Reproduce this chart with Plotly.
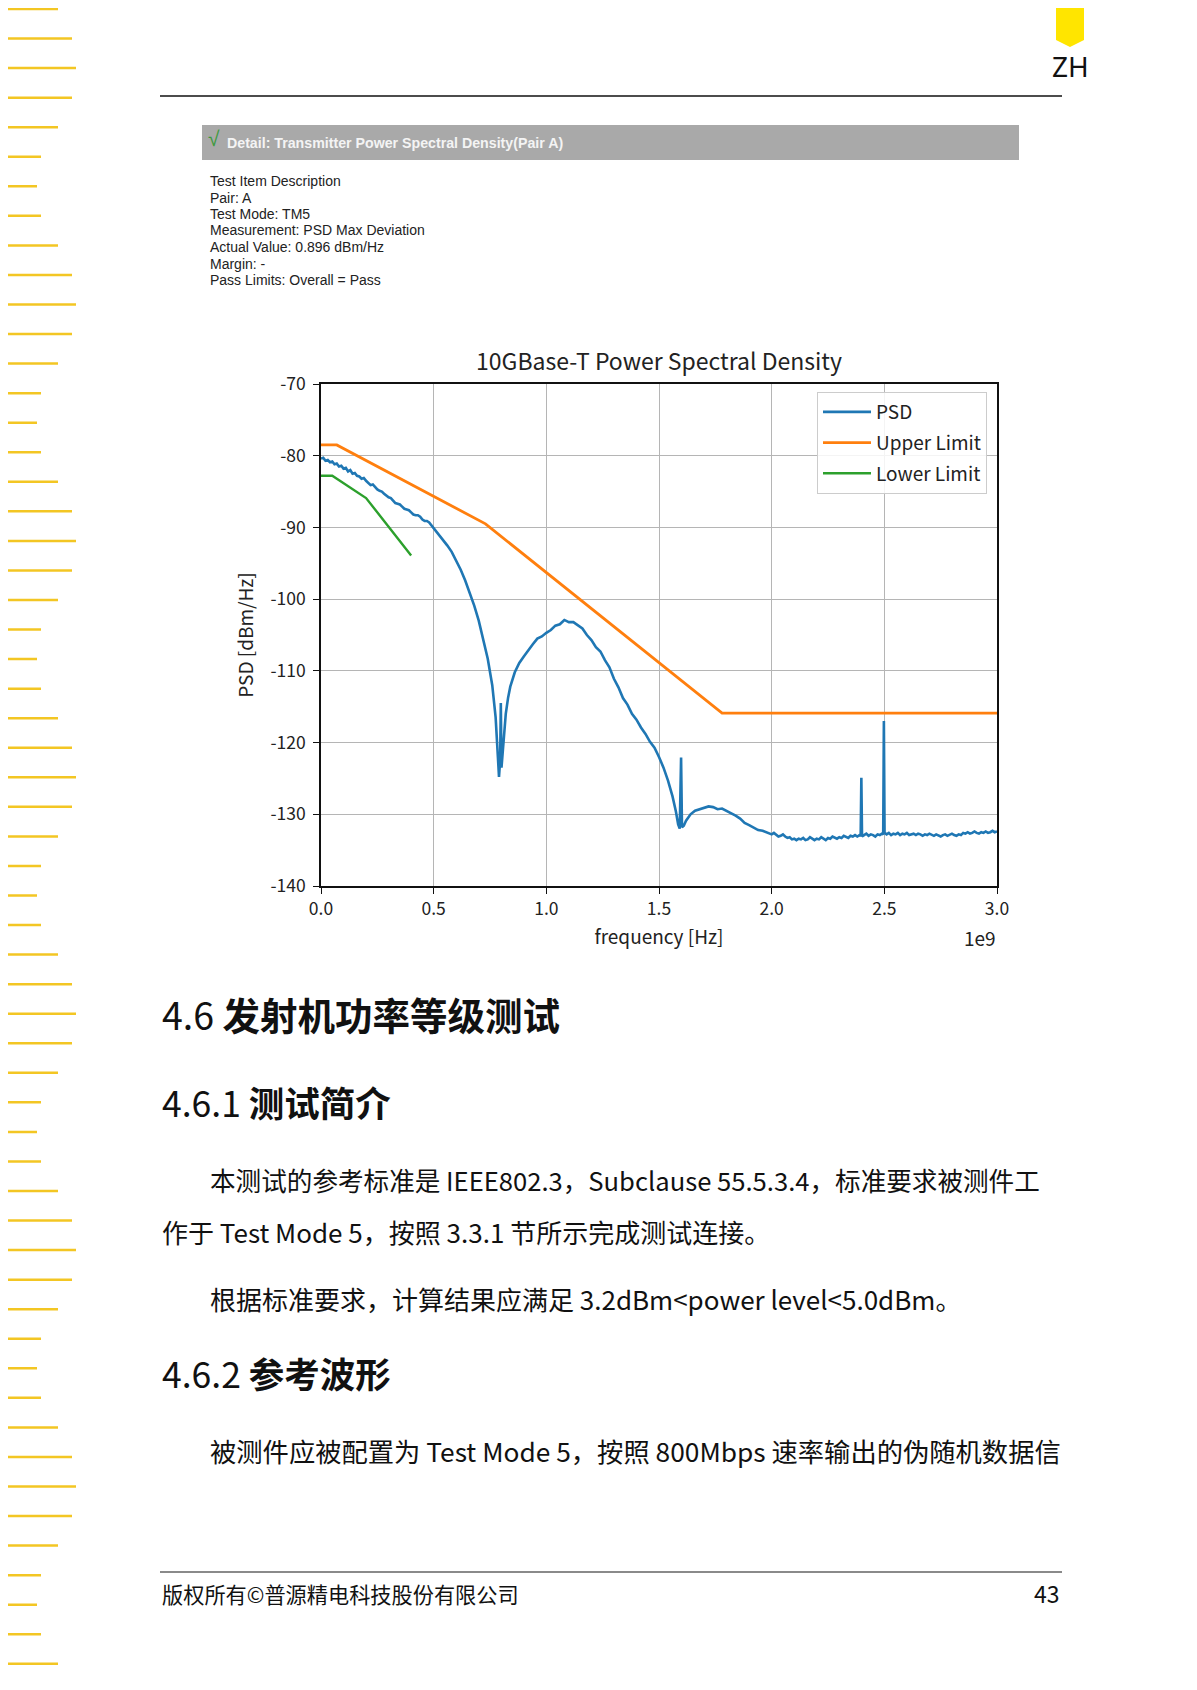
import plotly.graph_objects as go

# ---- data (frequency in units of 1e9 Hz) ----
psd_freq_head = [
    0.00, 0.01, 0.02, 0.03, 0.04, 0.05, 0.06, 0.07, 0.08, 0.09,
    0.10, 0.11, 0.12, 0.13, 0.14, 0.15, 0.16, 0.17, 0.18, 0.19,
    0.20, 0.21, 0.22, 0.23, 0.24, 0.25, 0.26, 0.27, 0.28, 0.29,
    0.30, 0.31, 0.32, 0.33, 0.34, 0.35, 0.36, 0.37, 0.38, 0.39,
    0.40, 0.41, 0.42, 0.43, 0.44, 0.45, 0.46, 0.47, 0.48, 0.49,
]
psd_db_head = [
    -80.4, -80.3, -80.7, -80.6, -80.9, -80.8, -81.2, -81.1, -81.5, -81.4,
    -81.8, -81.7, -82.2, -82.0, -82.5, -82.4, -82.8, -82.9, -83.2, -83.1,
    -83.5, -83.8, -84.1, -84.0, -84.4, -84.7, -84.9, -85.0, -85.3, -85.6,
    -85.8, -85.9, -86.2, -86.6, -86.7, -86.8, -87.1, -87.4, -87.5, -87.6,
    -87.9, -88.2, -88.3, -88.3, -88.5, -88.9, -89.1, -89.1, -89.3, -89.7,
]
psd_freq_mid = [
    0.50, 0.52, 0.54, 0.56, 0.58, 0.60, 0.62, 0.64, 0.66, 0.68,
    0.70, 0.72, 0.74, 0.76, 0.775, 0.785, 0.790, 0.795, 0.798, 0.801,
    0.805, 0.812, 0.820, 0.83, 0.84, 0.86, 0.88, 0.90, 0.92, 0.94,
    0.96, 0.98, 1.00, 1.02, 1.04, 1.06, 1.08, 1.10, 1.12, 1.14,
    1.16, 1.18, 1.20, 1.22, 1.24, 1.26, 1.28, 1.30, 1.32, 1.34,
    1.36, 1.38, 1.40, 1.42, 1.44, 1.46, 1.48, 1.50, 1.52, 1.54,
    1.56, 1.575, 1.585, 1.592, 1.598, 1.602, 1.61, 1.62, 1.64, 1.66,
    1.68, 1.70, 1.72, 1.74, 1.76, 1.78, 1.80, 1.82, 1.84, 1.86,
    1.88, 1.90, 1.92, 1.94, 1.96, 1.98,
]
psd_db_mid = [
    -90.0, -90.8, -91.6, -92.5, -93.4, -94.6, -95.9, -97.4, -99.1, -100.9,
    -103.0, -105.5, -108.3, -112.0, -116.5, -122.0, -124.8, -122.5, -114.5, -123.5,
    -122.0, -118.8, -116.0, -113.8, -112.2, -110.2, -108.9, -108.0, -107.1, -106.3,
    -105.5, -105.2, -104.7, -104.3, -103.7, -103.5, -102.9, -103.2, -103.2, -103.7,
    -104.1, -105.0, -105.7, -106.7, -107.3, -108.5, -109.5, -111.1, -112.3, -113.8,
    -114.7, -116.0, -116.8, -117.9, -118.8, -119.9, -120.7, -122.0, -123.5, -125.3,
    -127.5, -129.6, -131.4, -132.0, -122.1, -131.8, -131.6, -130.9, -130.0, -129.5,
    -129.3, -129.2, -128.9, -129.0, -129.3, -129.2, -129.5, -129.9, -130.2, -130.6,
    -131.2, -131.5, -131.9, -132.2, -132.3, -132.6,
]
psd_freq_tail = [
    2.00, 2.01, 2.02, 2.03, 2.04, 2.05, 2.06, 2.07, 2.08, 2.09,
    2.10, 2.11, 2.12, 2.13, 2.14, 2.15, 2.16, 2.17, 2.18, 2.19,
    2.20, 2.21, 2.22, 2.23, 2.24, 2.25, 2.26, 2.27, 2.28, 2.29,
    2.30, 2.31, 2.32, 2.33, 2.34, 2.35, 2.36, 2.37, 2.38, 2.39,
    2.395, 2.398, 2.401, 2.41, 2.42, 2.43, 2.44, 2.45, 2.46, 2.47,
    2.48, 2.49, 2.495, 2.498, 2.501, 2.51, 2.52, 2.53, 2.54, 2.55,
    2.56, 2.57, 2.58, 2.59, 2.60, 2.61, 2.62, 2.63, 2.64, 2.65,
    2.66, 2.67, 2.68, 2.69, 2.70, 2.71, 2.72, 2.73, 2.74, 2.75,
    2.76, 2.77, 2.78, 2.79, 2.80, 2.81, 2.82, 2.83, 2.84, 2.85,
    2.86, 2.87, 2.88, 2.89, 2.90, 2.91, 2.92, 2.93, 2.94, 2.95,
    2.96, 2.97, 2.98, 2.99, 3.00,
]
psd_db_tail = [
    -132.8, -132.6, -132.9, -133.1, -133.0, -132.8, -133.1, -133.3, -133.2, -133.5,
    -133.4, -133.6, -133.4, -133.5, -133.3, -133.6, -133.5, -133.2, -133.4, -133.6,
    -133.4, -133.5, -133.2, -133.4, -133.6, -133.3, -133.4, -133.1, -133.3, -133.4,
    -133.2, -133.3, -133.0, -133.2, -133.3, -133.0, -133.1, -132.9, -133.1, -132.9,
    -133.0, -124.9, -133.1, -132.9, -132.7, -133.0, -132.8, -132.9, -133.1, -132.8,
    -132.9, -132.7, -132.8, -117.0, -132.6, -132.8, -132.6, -132.9, -132.7, -132.8,
    -132.6, -132.9, -132.7, -132.8, -132.6, -132.9, -132.8, -132.7, -132.9, -132.7,
    -132.8, -133.0, -132.8, -132.9, -132.7, -132.9, -133.0, -132.8, -132.9, -133.1,
    -132.9, -132.8, -133.0, -132.9, -132.7, -132.9, -133.0, -132.8, -132.9, -132.6,
    -132.7, -132.5, -132.7, -132.6, -132.4, -132.6, -132.7, -132.5, -132.6, -132.4,
    -132.6, -132.5, -132.3, -132.5, -132.4,
]
psd_freq = psd_freq_head + psd_freq_mid + psd_freq_tail
psd_db = psd_db_head + psd_db_mid + psd_db_tail

upper_freq = [0.0, 0.07, 0.73, 1.78, 3.0]
upper_db = [-78.5, -78.5, -89.5, -115.9, -115.9]

lower_freq = [0.0, 0.05, 0.20, 0.40]
lower_db = [-82.8, -82.8, -85.9, -93.9]

x_ticks = [0.0, 0.5, 1.0, 1.5, 2.0, 2.5, 3.0]
x_tick_text = ["0.0", "0.5", "1.0", "1.5", "2.0", "2.5", "3.0"]
y_ticks = [-70, -80, -90, -100, -110, -120, -130, -140]
y_tick_text = ["-70", "-80", "-90", "-100", "-110", "-120", "-130", "-140"]

detail_lines = [
    "Test Item Description",
    "Pair: A",
    "Test Mode: TM5",
    "Measurement: PSD Max Deviation",
    "Actual Value: 0.896 dBm/Hz",
    "Margin: -",
    "Pass Limits: Overall = Pass",
]

# ---- page geometry (pixels of the page) ----
OFF = 8                       # browser body margin
FIG_W, FIG_H = 1197 - OFF, 1690 - OFF
L, R, T, B = 321, 997, 384, 886   # plot area on the page

CJK = "Noto Sans CJK SC"
ARIAL = "Liberation Sans"


def fx(x):
    return (x - L) / (R - L)


def fy(y):
    return (B - y) / (B - T)


annotations = []
shapes = []


def text(x, y, s, size, anchor="left", color="#111111", family=CJK):
    annotations.append(dict(
        x=fx(x), y=fy(y), xref="paper", yref="paper", text=s,
        showarrow=False, xanchor=anchor, yanchor="middle",
        font=dict(size=size, color=color, family=family)))


def hline(x0, x1, y, color, width):
    shapes.append(dict(type="line", xref="paper", yref="paper",
                       x0=fx(x0), x1=fx(x1), y0=fy(y), y1=fy(y),
                       line=dict(color=color, width=width)))


# left ruler stripes
stripe_len = [58, 72, 76, 72, 58, 41, 37, 41]
for i in range(58):
    y = 9 + i * 29.55
    if y > 1688:
        break
    hline(2, stripe_len[i % 8], y, "#f3c623", 2.5)

# yellow tab and ZH
shapes.append(dict(
    type="path", xref="paper", yref="paper",
    path="M {} {} L {} {} L {} {} L {} {} L {} {} Z".format(
        fx(1056), fy(0), fx(1084), fy(0), fx(1084), fy(40),
        fx(1070), fy(47), fx(1056), fy(40)),
    fillcolor="#ffe500", line=dict(width=0)))
text(1070, 66, "ZH", 28, anchor="center", color="#111111", family="Noto Sans")

# header rule
hline(160, 1062, 96, "#111111", 1.5)

# gray detail bar
shapes.append(dict(type="rect", xref="paper", yref="paper",
                   x0=fx(202), x1=fx(1019), y0=fy(160), y1=fy(125),
                   fillcolor="#a9a9a9", line=dict(width=0)))
text(206, 138, "√", 21, color="#3d9a3d", family=ARIAL)
text(225, 143, "<b>Detail: Transmitter Power Spectral Density(Pair A)</b>", 14.2,
     color="#f4f4f4", family=ARIAL)

line_y = [181, 198, 214, 230, 247, 264, 280]
for yy, s in zip(line_y, detail_lines):
    text(208, yy, s, 14, color="#222222", family=ARIAL)

# chart extras
text(998, 937, "1e9", 19, anchor="right", color="#222222")

# document text below the chart
text(160, 1013, "4.6 <b>发射机功率等级测试</b>", 37.5, color="#111111")
text(160, 1101, "4.6.1 <b>测试简介</b>", 35.5, color="#111111")
text(208, 1179, "本测试的参考标准是 IEEE802.3，Subclause 55.5.3.4，标准要求被测件工", 25.6)
text(160, 1231, "作于 Test Mode 5，按照 3.3.1 节所示完成测试连接。", 26)
text(208, 1298, "根据标准要求，计算结果应满足 3.2dBm&lt;power level&lt;5.0dBm。", 26)
text(160, 1372, "4.6.2 <b>参考波形</b>", 35.5, color="#111111")
text(208, 1450, "被测件应被配置为 Test Mode 5，按照 800Mbps 速率输出的伪随机数据信", 26.3)

# footer
hline(160, 1062, 1572, "#8a8a8a", 2)
text(160, 1593, "版权所有©普源精电科技股份有限公司", 21.2)
text(1062, 1593, "43", 23, anchor="right")

fig = go.Figure()
fig.add_trace(go.Scatter(x=psd_freq, y=psd_db, mode="lines", name="PSD",
                         legendgroup="a", line=dict(color="#1f77b4", width=2.6)))
fig.add_trace(go.Scatter(x=upper_freq, y=upper_db, mode="lines", name="Upper Limit",
                         legendgroup="b", line=dict(color="#ff7f0e", width=2.8)))
fig.add_trace(go.Scatter(x=lower_freq, y=lower_db, mode="lines", name="Lower Limit",
                         legendgroup="c", line=dict(color="#2ca02c", width=2.4)))

axis_common = dict(
    showgrid=True, gridcolor="#b5b5b5", gridwidth=1,
    showline=True, mirror=True, linecolor="#111111", linewidth=1.5,
    ticks="outside", ticklen=6, tickcolor="#111111", zeroline=False,
    tickfont=dict(family=CJK, size=17.5, color="#222222"),
)

fig.update_layout(
    width=FIG_W, height=FIG_H,
    margin=dict(l=L - OFF, r=FIG_W - (R - OFF), t=T - OFF, b=FIG_H - (B - OFF)),
    paper_bgcolor="white", plot_bgcolor="white",
    title=dict(text="10GBase-T Power Spectral Density", x=0.5, xref="paper",
               xanchor="center", y=1 - (362 - OFF) / FIG_H, yref="container",
               yanchor="middle", font=dict(family=CJK, size=23, color="#222222")),
    xaxis=dict(range=[0, 3], tickvals=x_ticks, ticktext=x_tick_text,
               title=dict(text="frequency [Hz]", standoff=12,
                          font=dict(family=CJK, size=19, color="#222222")),
               **axis_common),
    yaxis=dict(range=[-140, -70], tickvals=y_ticks, ticktext=y_tick_text,
               ticklabelstandoff=4,
               title=dict(text="PSD [dBm/Hz]", standoff=12,
                          font=dict(family=CJK, size=19, color="#222222")),
               **axis_common),
    legend=dict(x=fx(987), y=fy(392), xanchor="right", yanchor="top",
                tracegroupgap=3, itemwidth=48,
                bgcolor="rgba(255,255,255,0.85)", bordercolor="#cccccc", borderwidth=1,
                font=dict(family=CJK, size=19, color="#222222")),
    annotations=annotations,
    shapes=shapes,
    showlegend=True,
)

fig.write_html("out.html")
